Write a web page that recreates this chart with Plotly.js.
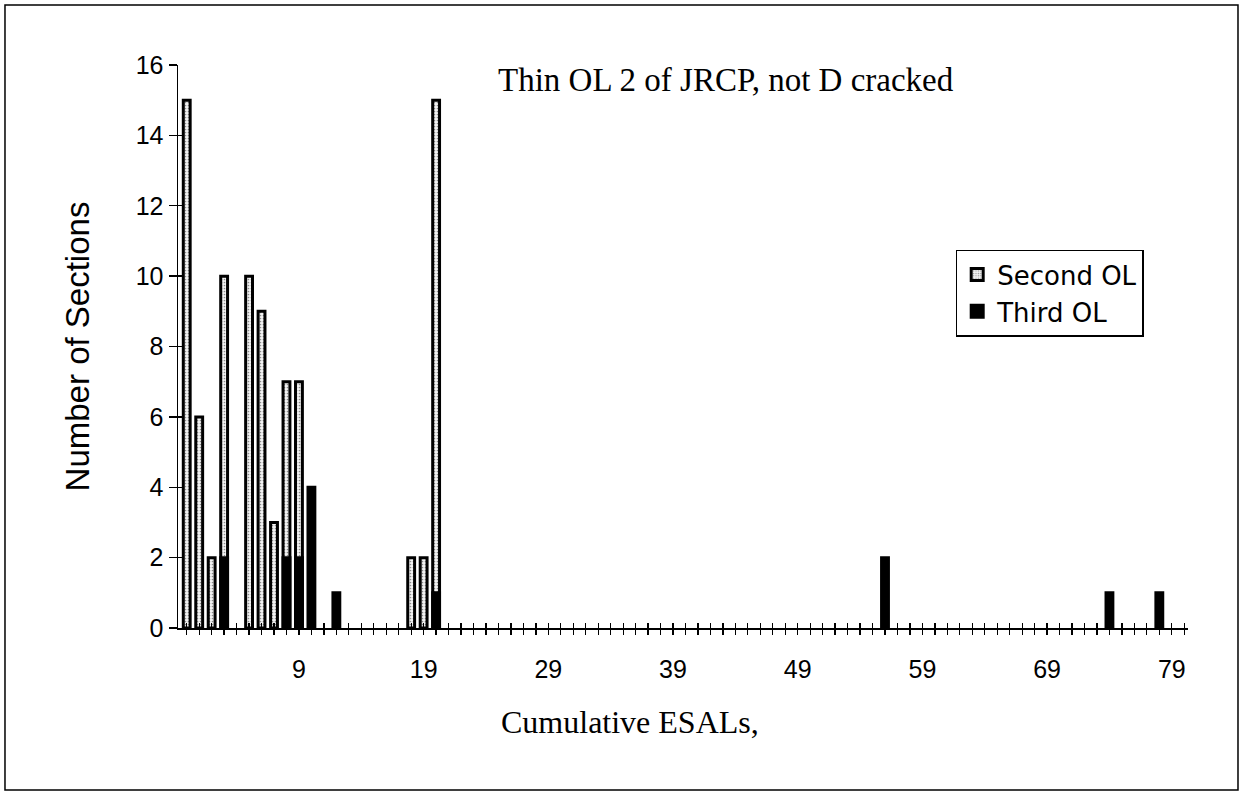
<!DOCTYPE html>
<html>
<head>
<meta charset="utf-8">
<script src="https://cdn.plot.ly/plotly-3.0.1.min.js"></script>
<style>html,body{margin:0;padding:0;background:#fff;}#chart{width:1245px;height:794px;}</style>
</head>
<body>
<div id="chart"></div>
<script>
// Category positions (0..80), labels shown every 10th category
const categories = Array.from({length: 81}, (_, i) => i);
const tickLabels = ["9", "19", "29", "39", "49", "59", "69", "79"];

// Second OL
const secondCats = [0, 1, 2, 3, 5, 6, 7, 8, 9, 18, 19, 20];
const secondVals = [15, 6, 2, 10, 10, 9, 3, 7, 7, 2, 2, 15];

// Third OL
const thirdCats = [3, 8, 9, 10, 12, 20, 56, 74, 78];
const thirdVals = [2, 2, 2, 4, 1, 1, 2, 1, 1];

const tickText = categories.map(c => tickLabels.includes(String(c)) ? String(c) : "");

const sans = "Liberation Sans, Arial, Helvetica, sans-serif";
const wideSans = "DejaVu Sans, Verdana, sans-serif";
const serif = "Liberation Serif, Times New Roman, serif";
const xRange = [-0.7, 80.3];
const yRange = [0, 16];

const traces = [
  {
    type: "bar", name: "Second OL", x: secondCats, y: secondVals,
    marker: {
      color: "#f0f0f0",
      line: {color: "#000", width: 3},
      pattern: {shape: ".", fgcolor: "#8c8c8c", bgcolor: "#f4f4f4", size: 3, solidity: 0.25}
    }
  },
  {
    type: "bar", name: "Third OL", x: thirdCats, y: thirdVals,
    xaxis: "x2", yaxis: "y2",
    marker: {color: "#000", line: {color: "#000", width: 3}}
  }
];

const baseTick = {tickcolor: "#000", tickwidth: 1.3, showgrid: false, zeroline: false};

const layout = {
  width: 1245, height: 794,
  margin: {l: 178, r: 57, t: 65, b: 166},
  paper_bgcolor: "#fff", plot_bgcolor: "#fff",
  barmode: "overlay", bargap: 0.45,
  showlegend: true,
  legend: {
    x: 0.770, y: 0.672, xanchor: "left", yanchor: "top",
    bordercolor: "#000", borderwidth: 1.5, bgcolor: "#fff",
    font: {family: wideSans, size: 26, color: "#000"},
    tracegroupgap: 0, itemwidth: 30
  },
  xaxis: Object.assign({}, baseTick, {
    type: "linear", range: xRange,
    tickmode: "array", tickvals: categories, ticktext: tickText,
    ticks: "outside", ticklen: 5,
    showline: true, linecolor: "#000", linewidth: 1.5,
    ticklabelstandoff: 13,
    tickfont: {family: sans, size: 25, color: "#000"}
  }),
  xaxis2: Object.assign({}, baseTick, {
    type: "linear", range: xRange, overlaying: "x", anchor: "y2", side: "bottom",
    tickmode: "array", tickvals: categories,
    ticks: "inside", ticklen: 5,
    showticklabels: false, showline: false
  }),
  yaxis: Object.assign({}, baseTick, {
    range: yRange, dtick: 2, tick0: 0,
    ticks: "outside", ticklen: 8,
    showline: true, linecolor: "#000", linewidth: 1.5,
    tickfont: {family: sans, size: 25, color: "#000"},
    title: {text: "Number of Sections", font: {family: sans, size: 33, color: "#000"}, standoff: 36}
  }),
  yaxis2: Object.assign({}, baseTick, {
    range: yRange, dtick: 2, tick0: 0, overlaying: "y", anchor: "x2", side: "left",
    ticks: "inside", ticklen: 6,
    showticklabels: false, showline: false
  }),
  annotations: [
    {xref: "paper", yref: "paper", x: 0.543, y: 0.973, xanchor: "center", yanchor: "middle",
     text: "Thin OL 2 of JRCP, not D cracked", showarrow: false,
     font: {family: serif, size: 33, color: "#000"}},
    {xref: "paper", yref: "paper", x: 0.448, y: -0.167, xanchor: "center", yanchor: "middle",
     text: "Cumulative ESALs,", showarrow: false,
     font: {family: serif, size: 32, color: "#000"}}
  ],
  shapes: [
    {type: "rect", xref: "paper", yref: "paper", x0: -0.1713, x1: 1.0495, y0: -0.2877, y1: 1.1066,
     line: {color: "#000", width: 1.5}, fillcolor: "rgba(0,0,0,0)", layer: "below"}
  ]
};

Plotly.newPlot("chart", traces, layout, {displayModeBar: false, staticPlot: true});
</script>
</body>
</html>
